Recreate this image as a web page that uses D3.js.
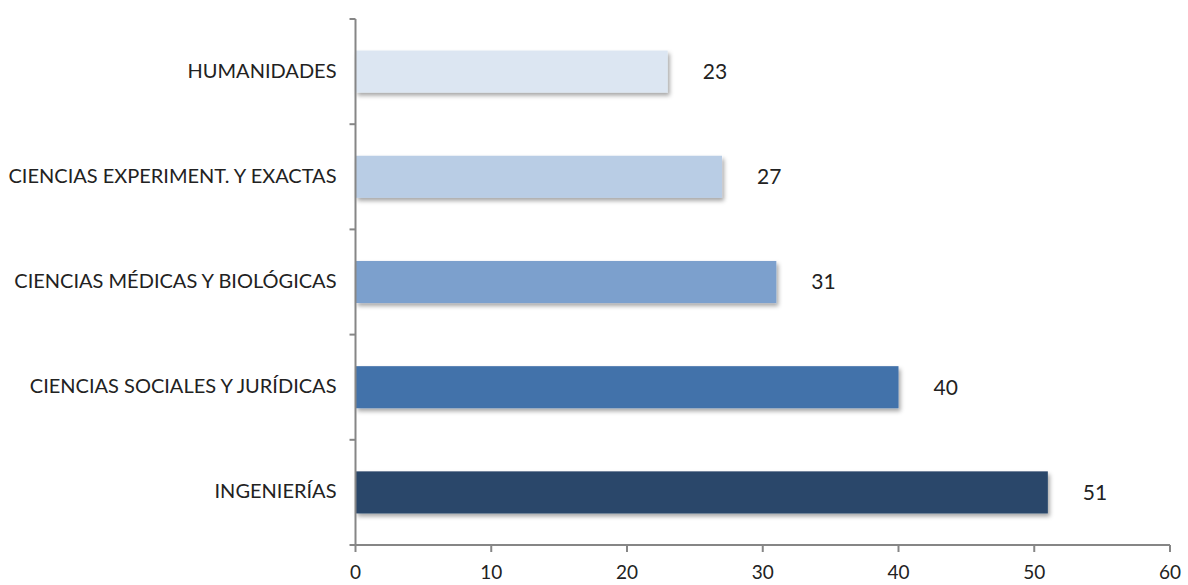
<!DOCTYPE html>
<html><head><meta charset="utf-8">
<script src="https://cdn.jsdelivr.net/npm/d3@7"></script>
<style>body{margin:0;background:#fff}svg{display:block}text{font-family:Lato,"Open Sans",sans-serif;fill:#222}</style>
</head><body><svg id="c" width="1188" height="585"></svg>
<script>
const categories = ["HUMANIDADES","CIENCIAS EXPERIMENT. Y EXACTAS","CIENCIAS MÉDICAS Y BIOLÓGICAS","CIENCIAS SOCIALES Y JURÍDICAS","INGENIERÍAS"];
const values = [23, 27, 31, 40, 51];
const barColors = ["#dce6f2","#b9cde5","#7ba0cd","#4372aa","#29466b"];
const xTicks = [0,10,20,30,40,50,60];

const svg = d3.select("#c");
const m = {left:355.5, top:19, right:1188-1170, bottom:585-545};
const W = 1188, H = 585;
const x = d3.scaleLinear().domain([0,60]).range([m.left, W-m.right]);
const y = d3.scaleBand().domain(categories).range([m.top, H-m.bottom]).paddingInner(0.6).paddingOuter(0.3);

const defs = svg.append("defs");
const f = defs.append("filter").attr("id","sh").attr("x","-5%").attr("y","-30%").attr("width","110%").attr("height","180%");
f.append("feDropShadow").attr("dx",2).attr("dy",3).attr("stdDeviation",2).attr("flood-color","#000").attr("flood-opacity",0.35);

svg.selectAll("rect.bar").data(values).join("rect").attr("class","bar")
  .attr("x", x(0)).attr("y",(d,i)=>y(categories[i]))
  .attr("width", d=>x(d)-x(0)).attr("height", y.bandwidth())
  .attr("fill",(d,i)=>barColors[i]).attr("filter","url(#sh)");

svg.selectAll("text.val").data(values).join("text").attr("class","val")
  .attr("x", d=>x(d)+35).attr("y",(d,i)=>y(categories[i])+y.bandwidth()/2+2)
  .attr("dominant-baseline","middle").attr("font-size",21).text(d=>d);

// axes
const ax = svg.append("g").attr("stroke","#868686").attr("stroke-width",2).attr("fill","none");
ax.append("line").attr("x1",x(0)).attr("x2",x(0)).attr("y1",m.top).attr("y2",H-m.bottom);
ax.append("line").attr("x1",x(0)).attr("x2",x(60)).attr("y1",H-m.bottom).attr("y2",H-m.bottom);
const yt = d3.range(categories.length+1).map(i=>m.top + i*(H-m.bottom-m.top)/categories.length);
ax.selectAll("line.yt").data(yt).join("line").attr("x1",x(0)-6).attr("x2",x(0)).attr("y1",d=>d).attr("y2",d=>d);
ax.selectAll("line.xt").data(xTicks).join("line").attr("x1",d=>x(d)).attr("x2",d=>x(d)).attr("y1",H-m.bottom).attr("y2",H-m.bottom+7);

svg.selectAll("text.xl").data(xTicks).join("text").attr("class","xl")
  .attr("x",d=>x(d)).attr("y",579).attr("text-anchor","middle").attr("font-size",19).text(d=>d);

svg.selectAll("text.yl").data(categories).join("text").attr("class","yl")
  .attr("x",x(0)-19).attr("y",d=>y(d)+y.bandwidth()/2+1).attr("dominant-baseline","middle").attr("text-anchor","end").attr("font-size",20).text(d=>d);
</script></body></html>
